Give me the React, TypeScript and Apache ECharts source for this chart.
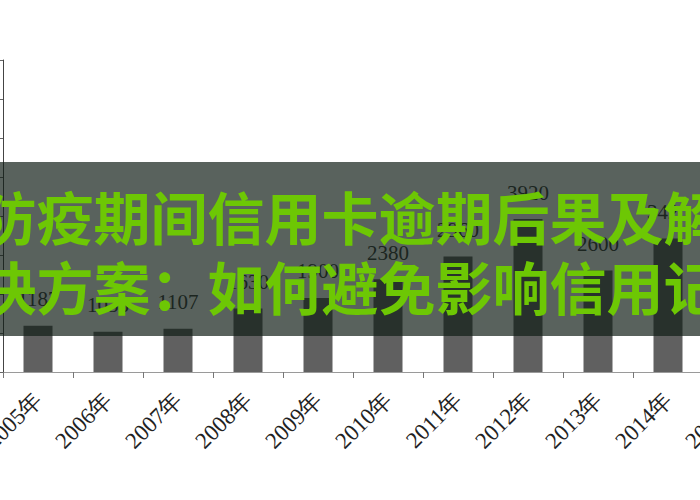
import React, { useEffect, useRef } from "react";
import * as echarts from "echarts";

const categories = ["2005年", "2006年", "2007年", "2008年", "2009年", "2010年", "2011年", "2012年", "2013年", "2014年", "2015年"];
const values = [1187, 1035, 1107, 1630, 1900, 2380, 2960, 3920, 2600, 3420, 3800];
const yMin = 0;
const yMax = 8000;
const yInterval = 1000;
const titleLine1 = "防疫期间信用卡逾期后果及解";
const titleLine2 = "决方案：如何避免影响信用记";

export default function App() {
  const ref = useRef<HTMLDivElement>(null);
  useEffect(() => {
    if (!ref.current) return;
    const chart = echarts.init(ref.current, undefined, { renderer: "svg" });
    chart.setOption({
      animation: false,
      backgroundColor: "#ffffff",
      grid: { left: 3, right: 7, top: 60, bottom: 128, containLabel: false, outerBoundsMode: "none" },
      xAxis: {
        type: "category",
        data: categories,
        axisLine: { lineStyle: { color: "#9a9a9a", width: 1 } },
        axisTick: { show: true, length: 6, lineStyle: { color: "#777" } },
        axisLabel: {
          rotate: 45,
          margin: 24,
          fontFamily: "Liberation Serif, serif",
          fontSize: 23,
          color: "#222",
          interval: 0,
        },
      },
      yAxis: {
        type: "value",
        min: yMin,
        max: yMax,
        interval: yInterval,
        axisLine: { show: true, lineStyle: { color: "#444", width: 1 } },
        axisTick: { show: true, length: 4, lineStyle: { color: "#666" } },
        axisLabel: { show: false },
        splitLine: { show: false },
      },
      series: [
        {
          type: "bar",
          data: values,
          barWidth: 29,
          itemStyle: { color: "#606060" },
          label: {
            show: true,
            position: "top",
            distance: 16,
            fontFamily: "Liberation Serif, serif",
            fontSize: 21,
            color: "#3a3a3a",
          },
        },
      ],
      graphic: [
        {
          type: "rect",
          z: 100,
          shape: { x: 0, y: 162, width: 700, height: 174 },
          style: { fill: "rgba(15,28,20,0.69)" },
        },
        {
          type: "text",
          z: 101,
          x: 350,
          y: 215,
          style: {
            text: titleLine1,
            font: "bold 57px 'Noto Sans CJK SC'",
            fill: "#6dc704",
            align: "center",
            verticalAlign: "middle",
          },
        },
        {
          type: "text",
          z: 101,
          x: 350,
          y: 285,
          style: {
            text: titleLine2,
            font: "bold 57px 'Noto Sans CJK SC'",
            fill: "#6dc704",
            align: "center",
            verticalAlign: "middle",
          },
        },
      ],
    });
    return () => chart.dispose();
  }, []);
  return (
    <div style={{ position: "fixed", left: 0, top: 0, width: 700, height: 500, overflow: "hidden" }}>
      <div ref={ref} style={{ width: 780, height: 500 }} />
    </div>
  );
}
